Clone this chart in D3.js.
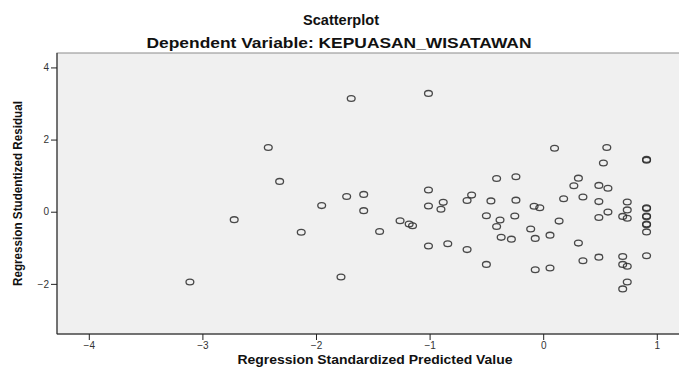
<!DOCTYPE html>
<html>
<head>
<meta charset="utf-8">
<script src="https://cdn.jsdelivr.net/npm/d3@7"></script>
<style>
  body { margin: 0; background: #fff; }
  svg { display: block; font-family: "Liberation Sans", Arial, sans-serif; }
</style>
</head>
<body>
<div id="chart"></div>
<script>
// Regression standardized predicted value (x) and studentized residual (y)
const predicted = [
  -3.11, -2.72, -2.42, -2.32, -2.13, -1.95, -1.69, -1.78, -1.73, -1.58,
  -1.58, -1.44, -1.26, -1.18, -1.15, -1.01, -1.01, -1.01, -1.01, -0.90,
  -0.88, -0.84, -0.67, -0.63, -0.67, -0.50, -0.50, -0.46, -0.41, -0.41,
  -0.38, -0.37, -0.28, -0.25, -0.24, -0.24, -0.11, -0.08, -0.07, -0.07,
  -0.03, 0.06, 0.06, 0.10, 0.14, 0.18, 0.27, 0.31, 0.31, 0.35,
  0.35, 0.49, 0.49, 0.49, 0.49, 0.53, 0.56, 0.57, 0.57, 0.70,
  0.70, 0.70, 0.70, 0.74, 0.74, 0.74, 0.74, 0.74, 0.91, 0.91,
  0.91, 0.91, 0.91, 0.91, 0.91, 0.91, 0.91, 0.91
]
const residual = [
  -1.95, -0.22, 1.78, 0.84, -0.57, 0.17, 3.14, -1.81, 0.42, 0.48,
  0.03, -0.55, -0.25, -0.34, -0.39, 3.28, 0.60, 0.16, -0.95, 0.07,
  0.26, -0.89, 0.31, 0.46, -1.05, -0.11, -1.46, 0.30, 0.92, -0.41,
  -0.23, -0.71, -0.76, -0.12, 0.97, 0.32, -0.48, 0.15, -0.74, -1.61,
  0.11, -0.65, -1.56, 1.76, -0.26, 0.36, 0.72, 0.93, -0.87, 0.41,
  -1.36, 0.73, 0.28, -0.16, -1.26, 1.35, 1.78, 0.65, -0.01, -0.13,
  -1.24, -1.46, -2.14, 0.27, 0.05, -0.18, -1.51, -1.95, 1.45, 1.43,
  0.11, 0.09, -0.12, -0.14, -0.34, -0.36, -0.56, -1.22
]
const xTicks = [-4, -3, -2, -1, 0, 1]
const yTicks = [-2, 0, 2, 4]

const width = 679
const height = 367
const plot = { left: 57, top: 53, right: 692, bottom: 334 }

const svg = d3.select('#chart')
  .append('svg')
  .attr('width', width)
  .attr('height', height)

const x = d3.scaleLinear()
  .domain([-4.28, 1.31])
  .range([plot.left, plot.right])

const y = d3.scaleLinear()
  .domain([-3.39, 4.4])
  .range([plot.bottom, plot.top])

// plot background and frame
svg.append('rect')
  .attr('x', plot.left)
  .attr('y', plot.top)
  .attr('width', plot.right - plot.left)
  .attr('height', plot.bottom - plot.top)
  .attr('fill', '#f0f0f0')
  .attr('stroke', '#8c8c8c')
  .attr('stroke-width', 1)

// titles - the original renders wider than Liberation, so stretch glyphs to fit
svg.append('text')
  .attr('x', 341)
  .attr('y', 25)
  .attr('text-anchor', 'middle')
  .attr('font-size', 14)
  .attr('font-weight', 'bold')
  .attr('fill', '#111')
  .attr('textLength', 76)
  .attr('lengthAdjust', 'spacingAndGlyphs')
  .text('Scatterplot')

svg.append('text')
  .attr('x', 339)
  .attr('y', 48)
  .attr('text-anchor', 'middle')
  .attr('font-size', 15)
  .attr('font-weight', 'bold')
  .attr('fill', '#111')
  .attr('textLength', 385)
  .attr('lengthAdjust', 'spacingAndGlyphs')
  .text('Dependent Variable: KEPUASAN_WISATAWAN')

// axes
const xAxis = svg.append('g')
  .attr('transform', `translate(0,${plot.bottom})`)
  .call(d3.axisBottom(x).tickValues(xTicks).tickSize(6).tickPadding(2).tickFormat(d3.format('d')))
const yAxis = svg.append('g')
  .attr('transform', `translate(${plot.left},0)`)
  .call(d3.axisLeft(y).tickValues(yTicks).tickSize(6).tickPadding(2).tickFormat(d3.format('d')))

for (const axis of [xAxis, yAxis]) {
  axis.select('.domain').remove()
  axis.selectAll('line').attr('stroke', '#222')
  axis.selectAll('text')
    .attr('font-size', 10)
    .attr('fill', '#333')
    .attr('font-family', '"Liberation Sans", Arial, sans-serif')
}

// black left and bottom axis lines
svg.append('line')
  .attr('x1', plot.left).attr('x2', plot.left)
  .attr('y1', plot.top).attr('y2', plot.bottom)
  .attr('stroke', '#222')
svg.append('line')
  .attr('x1', plot.left).attr('x2', plot.right)
  .attr('y1', plot.bottom).attr('y2', plot.bottom)
  .attr('stroke', '#222')

// axis titles
svg.append('text')
  .attr('x', 375)
  .attr('y', 364)
  .attr('text-anchor', 'middle')
  .attr('font-size', 13)
  .attr('font-weight', 'bold')
  .attr('fill', '#111')
  .attr('textLength', 275)
  .attr('lengthAdjust', 'spacingAndGlyphs')
  .text('Regression Standardized Predicted Value')

svg.append('text')
  .attr('transform', `translate(22,${(plot.top + plot.bottom) / 2}) rotate(-90)`)
  .attr('text-anchor', 'middle')
  .attr('font-size', 12)
  .attr('font-weight', 'bold')
  .attr('fill', '#111')
  .attr('textLength', 185)
  .attr('lengthAdjust', 'spacingAndGlyphs')
  .text('Regression Studentized Residual')

// points
svg.append('g')
  .selectAll('ellipse')
  .data(predicted.map((p, i) => ({ p, r: residual[i] })))
  .enter()
  .append('ellipse')
  .attr('cx', (d) => x(d.p))
  .attr('cy', (d) => y(d.r))
  .attr('rx', 3.9)
  .attr('ry', 2.9)
  .attr('fill', 'none')
  .attr('stroke', '#2a2a2a')
  .attr('stroke-opacity', 0.85)
  .attr('stroke-width', 1.3)
</script>
</body>
</html>
